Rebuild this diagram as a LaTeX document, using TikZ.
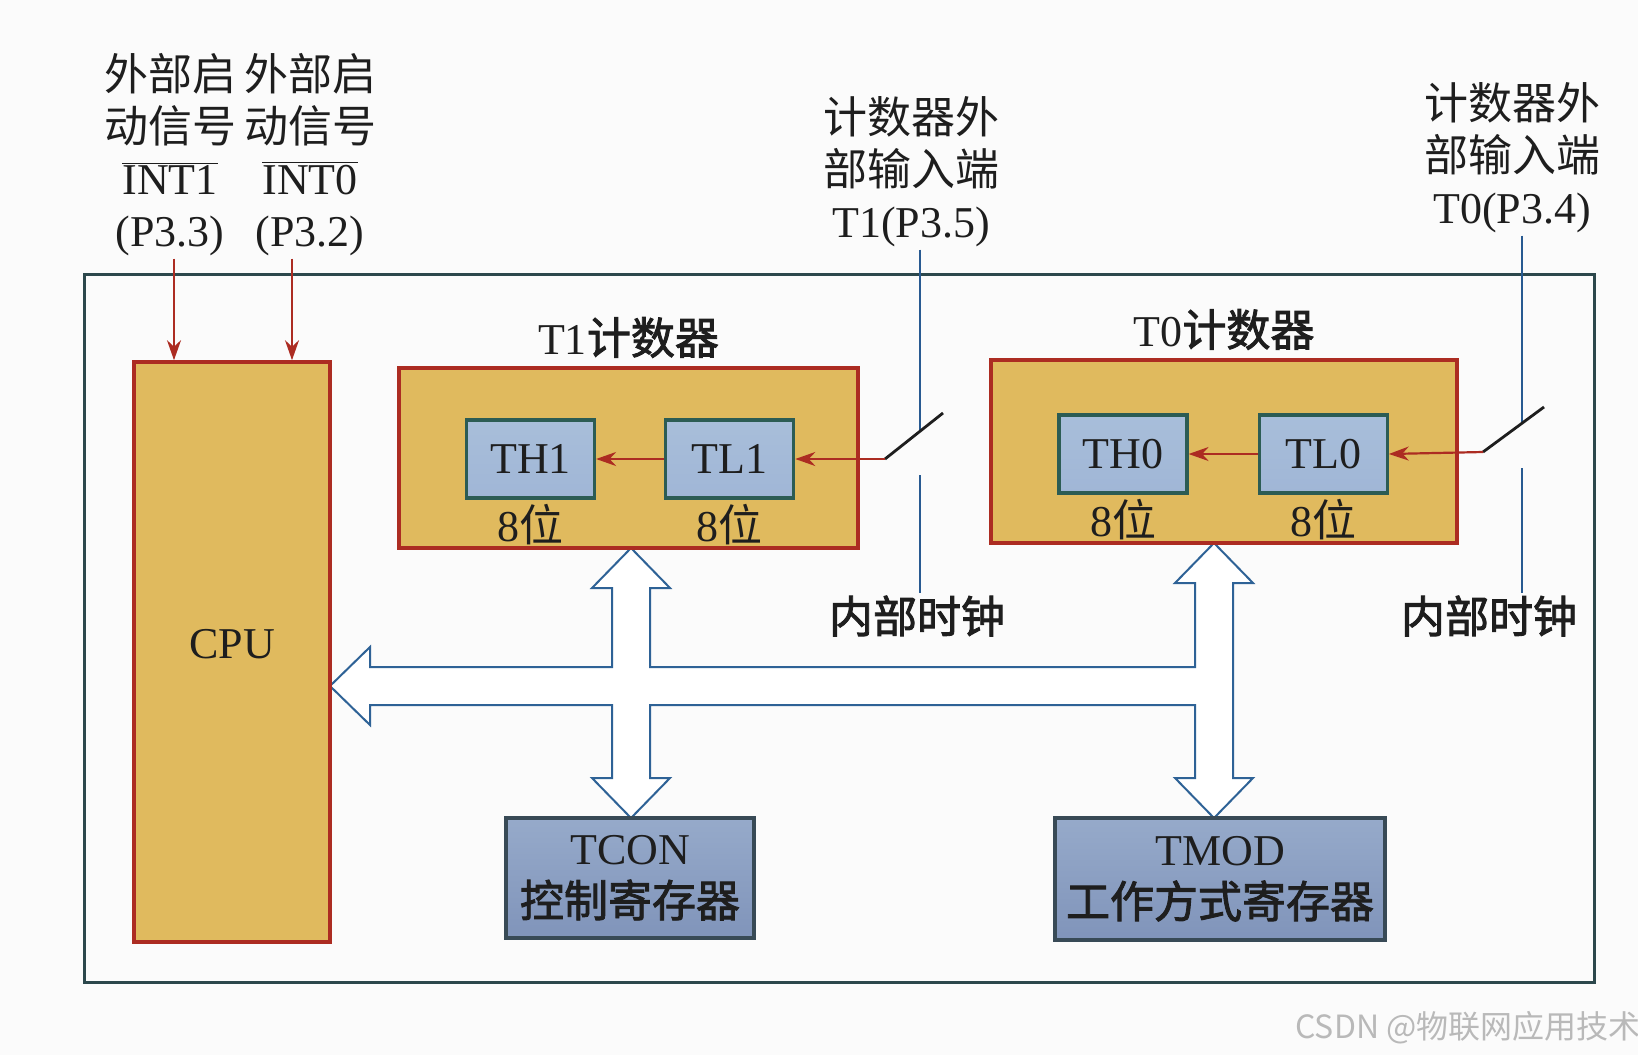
\documentclass[tikz,border=0pt]{standalone}
\usepackage{fontspec}
\setmainfont{Liberation Serif}
\newfontfamily\cjk[AutoFakeBold=2]{Noto Sans CJK SC}
\usetikzlibrary{arrows.meta,positioning,calc}
\definecolor{cGold}{RGB}{224,186,94}
\definecolor{cRed}{RGB}{172,44,34}
\definecolor{cTeal}{RGB}{44,92,84}
\definecolor{cSlate}{RGB}{56,74,86}
\definecolor{cWire}{RGB}{40,90,145}
\definecolor{cBus}{RGB}{46,98,150}
\definecolor{cFrame}{RGB}{44,72,76}
\definecolor{cInk}{RGB}{30,30,30}
\definecolor{regTop}{RGB}{168,190,218}
\definecolor{regMid}{RGB}{240,244,248}
\definecolor{regBot}{RGB}{160,182,214}
\definecolor{sfrTop}{RGB}{150,170,202}
\definecolor{sfrMid}{RGB}{196,206,222}
\definecolor{sfrBot}{RGB}{128,148,186}
\begin{document}
\begin{tikzpicture}[x=0.5pt,y=-0.5pt,font=\fontsize{22}{26}\selectfont,text=cInk,
  ctr/.style={draw=cRed,line width=1.8pt,fill=cGold,inner sep=0pt},
  reg/.style={draw=cTeal,line width=1.6pt,top color=regTop,middle color=regMid,bottom color=regBot,minimum width=64pt,minimum height=39pt},
  sfr/.style={draw=cSlate,line width=1.6pt,top color=sfrTop,middle color=sfrMid,bottom color=sfrBot,align=center},
  lbl/.style={align=center,inner sep=1pt},
  ra/.style={-{Stealth[length=10pt,width=7pt]},cRed,line width=1.1pt},
  wire/.style={cWire,line width=0.8pt},
  blade/.style={cInk,line width=1.4pt}]
  \useasboundingbox (0,0) rectangle (1638,1055);
  \fill[white!97!gray] (0,0) rectangle (1638,1055);
  % board frame
  \draw[cFrame,line width=1.5pt] (84,274) rectangle (1594,982);
  % data bus
  \draw[cBus,line width=1pt,fill=white] (330,686) -- (370,647) -- (370,667) -- (612,667) -- (612,588) -- (592,588) -- (631,548) -- (670,588) -- (650,588) -- (650,667) -- (1195,667) -- (1195,583) -- (1175,583) -- (1214,543) -- (1253,583) -- (1233,583) -- (1233,778) -- (1253,778) -- (1214,818) -- (1175,778) -- (1195,778) -- (1195,705) -- (650,705) -- (650,778) -- (670,778) -- (631,818) -- (592,778) -- (612,778) -- (612,705) -- (370,705) -- (370,725) -- cycle;
  % blocks
  \node[ctr,minimum width=98pt,minimum height=290pt] (cpu) at (232,652) {\raisebox{8pt}{CPU}};
  \node[ctr,minimum width=229.5pt,minimum height=90pt] (t1) at (628.5,458) {};
  \node[ctr,minimum width=233pt,minimum height=91.5pt] (t0) at (1224,451.5) {};
  \node[reg] (th1) at (530.5,459) {TH1};
  \node[reg,right=34pt of th1] (tl1) {TL1};
  \node[reg] (th0) at (1123,454) {TH0};
  \node[reg,right=34.5pt of th0] (tl0) {TL0};
  \foreach \r in {th1,tl1,th0,tl0} \node[lbl,below=1pt of \r] {8{\cjk 位}};
  \node[lbl,above=3pt of t1] (t1name) {T1{\cjk\bfseries 计数器}};
  \node[lbl,above=3pt of t0] (t0name) {T0{\cjk\bfseries 计数器}};
  \node[sfr,minimum width=124pt,minimum height=60pt] (tcon) at (630,878) {TCON\\{\cjk\bfseries 控制寄存器}};
  \node[sfr,minimum width=165pt,minimum height=61pt] (tmod) at (1220,879) {TMOD\\{\cjk\bfseries 工作方式寄存器}};
  % outside signals
  \node[lbl] (int1) at (170,155) {{\cjk 外部启}\\{\cjk 动信号}\\$\overline{\mbox{INT1}}$\\(P3.3)};
  \node[lbl] (int0) at (310,155) {{\cjk 外部启}\\{\cjk 动信号}\\$\overline{\mbox{INT0}}$\\(P3.2)};
  \node[lbl] (cin1) at (911,172) {{\cjk 计数器外}\\{\cjk 部输入端}\\T1(P3.5)};
  \node[lbl] (cin0) at (1512,158) {{\cjk 计数器外}\\{\cjk 部输入端}\\T0(P3.4)};
  \node[lbl] (clk1) at (917,616) {{\cjk\bfseries 内部时钟}};
  \node[lbl] (clk0) at (1489,616) {{\cjk\bfseries 内部时钟}};
  \draw[ra] ([xshift=2pt]int1.south) -- ([xshift=2pt]int1.south |- cpu.north);
  \draw[ra] ([xshift=-9pt]int0.south) -- ([xshift=-9pt]int0.south |- cpu.north);
  % T1 switch
  \coordinate (s1a) at (885,459);
  \coordinate (s1b) at (943,413);
  \coordinate (e1) at (920,431);
  \coordinate (s1c) at (920,475);
  \draw[wire] (cin1.south -| e1) -- (e1);
  \draw[wire] (s1c) -- (clk1.north -| s1c);
  \draw[blade] (s1a) -- (s1b);
  \draw[ra] (s1a) -- (tl1.east);
  \draw[ra] (tl1) -- (th1);
  % T0 switch
  \coordinate (s0a) at (1483,452);
  \coordinate (s0b) at (1544,407);
  \coordinate (e0) at (1522,423);
  \coordinate (s0c) at (1522,468);
  \draw[wire] (cin0.south -| e0) -- (e0);
  \draw[wire] (s0c) -- (clk0.north -| s0c);
  \draw[blade] (s0a) -- (s0b);
  \draw[ra] (s0a) -- (tl0.east);
  \draw[ra] (tl0) -- (th0);
  \node[font=\cjk\fontsize{16}{16}\selectfont,text=gray!55] (wm) at (1468,1028) {CSDN @物联网应用技术};
\end{tikzpicture}
\end{document}
